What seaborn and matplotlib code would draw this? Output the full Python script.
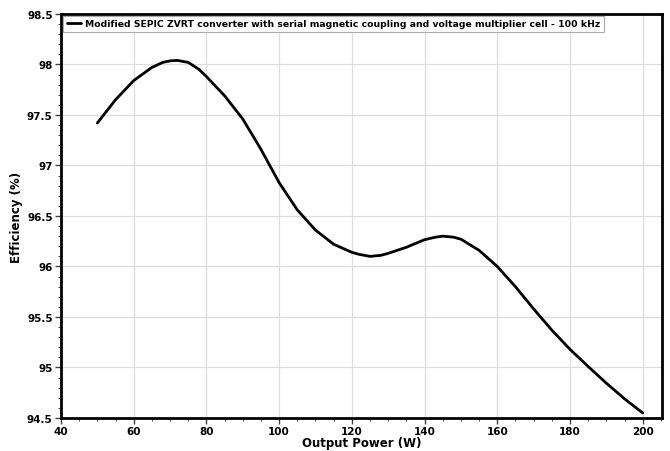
import matplotlib
matplotlib.use("Agg")
import matplotlib.pyplot as plt
import seaborn as sns
import pandas as pd
from matplotlib.ticker import MultipleLocator

power_w = [50, 55, 60, 65, 68, 70, 72, 75, 78, 80, 85, 90, 95, 100, 105, 110,
           115, 120, 122, 125, 128, 130, 135, 140, 143, 145, 148, 150, 155, 160,
           165, 170, 175, 180, 185, 190, 195, 200]
efficiency = [97.42, 97.65, 97.84, 97.97, 98.02, 98.035, 98.04, 98.02, 97.95,
              97.88, 97.69, 97.46, 97.16, 96.83, 96.56, 96.36, 96.22, 96.14,
              96.12, 96.10, 96.11, 96.13, 96.19, 96.265, 96.29, 96.30, 96.29,
              96.27, 96.16, 96.00, 95.80, 95.58, 95.37, 95.18, 95.01, 94.845,
              94.69, 94.55]
series_name = "Modified SEPIC ZVRT converter with serial magnetic coupling and voltage multiplier cell - 100 kHz"

df = pd.DataFrame({"Output Power (W)": power_w, "Efficiency (%)": efficiency,
                   "series": series_name})

sns.set_style("white")
plt.rcParams["font.family"] = ["DejaVu Sans"]
plt.rcParams["text.color"] = "black"
plt.rcParams["axes.labelcolor"] = "black"
plt.rcParams["xtick.color"] = "black"
plt.rcParams["ytick.color"] = "black"

fig = plt.figure(figsize=(6.7, 4.52), dpi=100)
ax = fig.add_axes([0.091, 0.073, 0.897, 0.894])

sns.lineplot(data=df, x="Output Power (W)", y="Efficiency (%)", hue="series",
             palette=["black"], linewidth=2, ax=ax)
for ln in ax.lines:
    ln.set_solid_joinstyle("round")
    ln.set_solid_capstyle("round")

ax.set_xlim(40, 205.3)
ax.set_ylim(94.5, 98.5)
ax.xaxis.set_major_locator(MultipleLocator(20))
ax.xaxis.set_minor_locator(MultipleLocator(5))
ax.yaxis.set_major_locator(MultipleLocator(0.5))
ax.yaxis.set_minor_locator(MultipleLocator(0.1))
ax.yaxis.set_major_formatter(plt.FuncFormatter(lambda v, p: f"{v:g}"))

ax.grid(True, which="major", color="#dddddd", linewidth=0.9)
for s in ax.spines.values():
    s.set_color("black")
    s.set_linewidth(2)
ax.tick_params(which="major", direction="out", length=4, width=1, color="#444444",
               labelcolor="black", labelsize=7.5, pad=2, left=True, bottom=True)
ax.tick_params(which="minor", direction="out", length=2.5, width=0.7, color="#555555",
               left=True, bottom=True)
for lbl in ax.get_xticklabels() + ax.get_yticklabels():
    lbl.set_fontweight("bold")

ax.set_xlabel("Output Power (W)", fontsize=8.5, fontweight="bold", labelpad=0)
ax.set_ylabel("Efficiency (%)", fontsize=8.5, fontweight="bold", labelpad=3)

leg = ax.legend(loc="upper left", fontsize=6.7, frameon=True, fancybox=False,
                framealpha=1, edgecolor="#aaaaaa", borderpad=0.4,
                handlelength=1.5, handletextpad=0.5, borderaxespad=0.2)
leg.get_frame().set_linewidth(0.8)
for t in leg.get_texts():
    t.set_fontweight("bold")
    t.set_color("black")

fig.savefig("out.png", dpi=100)
